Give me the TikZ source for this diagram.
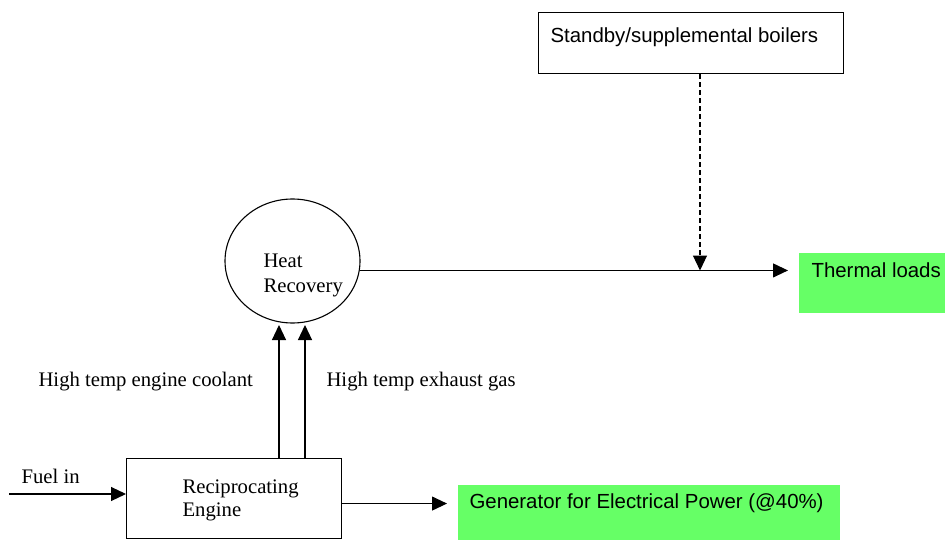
\documentclass[tikz,border=0pt]{standalone}
\usepackage{fontspec}
\setmainfont{Liberation Serif}
\newfontfamily\arialfont{Liberation Sans}
\usepackage{xcolor}
\usepackage{tikz}
\usetikzlibrary{arrows.meta,positioning,shapes.geometric}
\definecolor{loadgreen}{RGB}{102,255,102}

\begin{document}
\begin{tikzpicture}[
  x=1pt,y=-1pt,line width=1.1pt,
  font=\fontsize{20.7}{24}\selectfont,
  box/.style={draw,rectangle,anchor=north west,inner sep=0pt},
  gbox/.style={fill=loadgreen,rectangle,anchor=north west,inner sep=0pt},
  txt/.style={anchor=base west,inner sep=0pt,align=left},
  stxt/.style={txt,font=\arialfont\fontsize{20.4}{24}\selectfont},
  >/.tip={Triangle[length=15pt,width=14pt]},
  every edge/.style={draw,->}
]
\useasboundingbox (0,0) rectangle (945,540);
\node[box,minimum width=305,minimum height=61] (boil) at (538,12) {};
\node[stxt] (boil-txt) at ([shift={(12,31)}]boil.north west) {Standby/supplemental boilers};
\node[gbox,minimum width=147,minimum height=60] (thermal) at (798,252) {};
\node[stxt] (thermal-txt) at ([shift={(13,25)}]thermal.north west) {Thermal loads};
\node[draw,ellipse,minimum width=135,minimum height=124,inner sep=0pt] (heat) at (292.5,261) {};
\node[txt] (heat-txt) at (263,292) {Heat\\[1pt]Recovery};
\node[box,minimum width=215,minimum height=80] (eng) at (126,458) {};
\node[txt] (eng-txt) at (182,516) {Reciprocating\\[-1pt]Engine};
\node[gbox,minimum width=382,minimum height=56] (gen) at (457,484) {};
\node[stxt] (gen-txt) at ([shift={(12,24)}]gen.north west) {Generator for Electrical Power (@40\%)};
% free ends of the arrows
\coordinate (fuel) at (9,494);
\coordinate (cool) at (279,325);
\coordinate (exh) at (305,325);
\coordinate (tee) at (700,270.5);
\node[txt] (fuel-lbl) at (21,483) {Fuel in};
\node[txt] (cool-lbl) at (38,386) {High temp engine coolant};
\node[txt] (exh-lbl) at (326,386) {High temp exhaust gas};
\draw (fuel) edge (fuel -| eng.west);
\draw (cool |- eng.north) edge (cool);
\draw (exh |- eng.north) edge (exh);
\draw ([yshift=-5pt]eng.east) edge ([xshift=-10pt,yshift=9pt]gen.west);
\draw (heat.-8) edge ([xshift=-10pt]heat.-8 -| thermal.west);
\draw[dash pattern=on 5pt off 3pt] (tee |- boil.south) edge (tee);
\end{tikzpicture}
\end{document}
